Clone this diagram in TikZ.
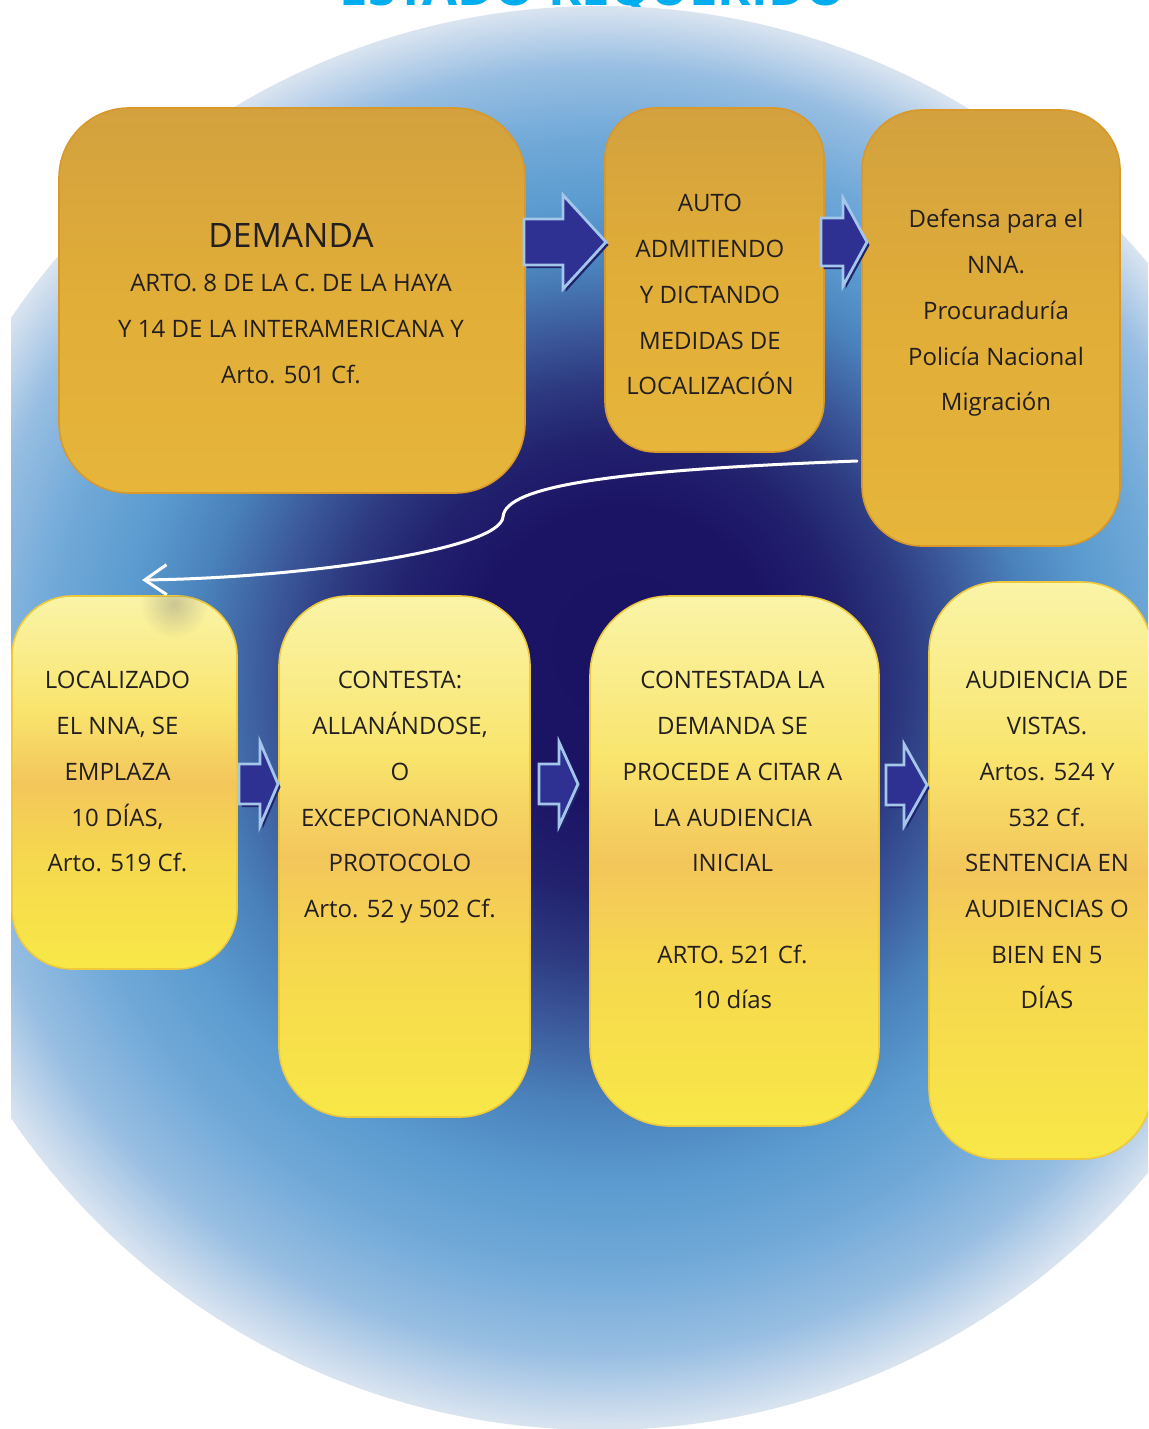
\documentclass[tikz,border=0pt]{standalone}
\usepackage{fontspec}
\setmainfont{Open Sans}
\usetikzlibrary{fit,arrows.meta,fadings}

% text and title
\definecolor{ink}{HTML}{231F20}
\definecolor{titlecyan}{HTML}{00AEEF}
% background disc, dark core to pale rim
\definecolor{bgA}{HTML}{1A1262}
\definecolor{bgB}{HTML}{1B1465}
\definecolor{bgC}{HTML}{22226E}
\definecolor{bgD}{HTML}{2D3A80}
\definecolor{bgE}{HTML}{3C5A9B}
\definecolor{bgF}{HTML}{4A82BB}
\definecolor{bgG}{HTML}{5B9BCF}
\definecolor{bgH}{HTML}{70A9D8}
\definecolor{bgI}{HTML}{98BEE2}
\definecolor{bgJ}{HTML}{DAE4F0}
% gold boxes
\definecolor{goldA}{HTML}{D3A13E}
\definecolor{goldB}{HTML}{E1AE38}
\definecolor{goldC}{HTML}{E6B53A}
\definecolor{goldEdge}{HTML}{D8982A}
% yellow boxes
\definecolor{yelA}{HTML}{FAF4A8}
\definecolor{yelB}{HTML}{F9E56E}
\definecolor{yelC}{HTML}{F3C65B}
\definecolor{yelD}{HTML}{F6D84E}
\definecolor{yelE}{HTML}{F8E847}
\definecolor{yelEdge}{HTML}{EFC93C}
% block arrows
\definecolor{arrowFill}{HTML}{2E3192}
\definecolor{arrowRim}{HTML}{A3C6EA}
\definecolor{arrowShadow}{HTML}{20246C}

% inner circle sits at the given point, outer circle at the origin;
% the shaded square is twice the disc radius on each side, so 12.5bp is the rim
\pgfdeclareradialshading{bgglow}{\pgfpoint{2.107bp}{5.478bp}}{%
  color(0bp)=(bgA); color(2.65bp)=(bgB); color(4bp)=(bgC); color(5.1bp)=(bgD);
  color(6.15bp)=(bgE); color(7.35bp)=(bgF); color(8.6bp)=(bgG); color(9.9bp)=(bgH);
  color(11.3bp)=(bgI); color(12.5bp)=(bgJ); color(50bp)=(bgJ)}
\pgfdeclareverticalshading{goldfill}{100bp}{%
  color(0bp)=(goldC); color(25bp)=(goldC); color(50bp)=(goldB);
  color(75bp)=(goldA); color(100bp)=(goldA)}
\pgfdeclareverticalshading{yellowfill}{100bp}{%
  color(0bp)=(yelE); color(25bp)=(yelE); color(40bp)=(yelD); color(50bp)=(yelC);
  color(60bp)=(yelB); color(75bp)=(yelA); color(100bp)=(yelA)}
\tikzfading[name=softspot, inner color=transparent!0, outer color=transparent!100]

\newcommand\capstrut{\rule{0pt}{12pt}}

% block arrow: tail x, head base x, tip x, centre y, shaft half height, head half height
\newcommand\blockarrow[6]{%
  \begin{scope}[shift={(2.5,3)}]
    \fill[arrowShadow] (#1,{#4-#5}) -- (#2,{#4-#5}) -- (#2,{#4-#6}) -- (#3,#4)
      -- (#2,{#4+#6}) -- (#2,{#4+#5}) -- (#1,{#4+#5}) -- cycle;
  \end{scope}
  \filldraw[blockarrow] (#1,{#4-#5}) -- (#2,{#4-#5}) -- (#2,{#4-#6}) -- (#3,#4)
    -- (#2,{#4+#6}) -- (#2,{#4+#5}) -- (#1,{#4+#5}) -- cycle;
}

\tikzset{
  goldbox/.style={draw=goldEdge, line width=0.8pt, shade, shading=goldfill, inner sep=0pt},
  yellowbox/.style={draw=yelEdge, line width=0.8pt, shade, shading=yellowfill, inner sep=0pt},
  txt/.style={align=center, inner sep=0pt, text=ink, anchor=north,
    font=\fontsize{12}{22.85}\selectfont},
  headtxt/.style={inner sep=0pt, text=ink, anchor=base, font=\fontsize{16.8}{20}\selectfont},
  titletxt/.style={inner sep=0pt, text=titlecyan, anchor=base,
    font=\fontsize{25.4}{30}\selectfont\bfseries},
  blockarrow/.style={fill=arrowFill, draw=arrowRim, line width=1.4pt, line join=miter},
  connector/.style={draw=white, line width=1.5pt, line cap=round,
    -{Straight Barb[length=11pt,width=15pt]}},
  smudge/.style={fill=black!55, opacity=0.35, path fading=softspot},
}

\begin{document}
\begin{tikzpicture}[x=0.5pt,y=-0.5pt]
\useasboundingbox (0,0) rectangle (1148,1429);
\clip (0,0) rectangle (1148,1429);
\fill[white] (0,0) rectangle (1148,1429);

% heading, mostly above the sheet
\node[titletxt] (title) at (593,6) {ESTADO REQUERIDO};

% shaded backdrop disc
\begin{scope}
  \clip (11,0) rectangle (1148,1429);
  \clip (600,718) circle[radius=712];
  \shade[shading=bgglow] (-914,-472) rectangle (1934,2376);
\end{scope}

% upper row
\node[goldbox, rounded corners=35pt, fit={(59,108) (525,493)}] (demanda) {};
\node[goldbox, rounded corners=25pt, fit={(605,108) (824,452)}] (auto) {};
\node[goldbox, rounded corners=30pt, fit={(862,110) (1120,546)}] (defensa) {};

% lower row
\node[yellowbox, rounded corners=30pt, fit={(12,596) (237,969)}] (localizado) {};
\node[yellowbox, rounded corners=35pt, fit={(279,596) (530,1117)}] (contesta) {};
\node[yellowbox, rounded corners=40pt, fit={(590,596) (879,1126)}] (contestada) {};
\node[yellowbox, rounded corners=35pt, fit={(929,582) (1152,1159)}] (audiencia) {};

% soft shadow left by the return arrow on the first lower box
\begin{scope}
  \clip (0,596) rectangle (300,700);
  \fill[smudge] (174,604) circle[radius=34];
\end{scope}

% step arrows
\blockarrow{524}{563}{606}{242}{23}{47}
\blockarrow{821}{843}{867}{242}{24}{44}
\blockarrow{239}{260}{278}{784}{20}{42}
\blockarrow{539}{559}{578}{784}{20}{42}
\blockarrow{886}{904}{927}{785}{20}{41}

% return path from the upper row to the lower row
\coordinate (turnStart) at (857,461);
\coordinate (turnEnd) at (142,580);
\draw[connector] (turnStart) .. controls (620,470) and (505,485) .. (503,517)
  .. controls (500,550) and (300,578) .. (turnEnd);

% texts
\node[headtxt] (demandaHead) at (291,247) {DEMANDA};
\node[txt] (demandaText) at (291,267.5) {\capstrut ARTO. 8 DE LA C. DE LA HAYA\\
  Y 14 DE LA INTERAMERICANA Y\\ Arto. 501 Cf.};
\node[txt] (autoText) at (710,187.5) {\capstrut AUTO\\ ADMITIENDO\\ Y DICTANDO\\
  MEDIDAS DE\\ LOCALIZACIÓN};
\node[txt] (defensaText) at (996,203.5) {\capstrut Defensa para el\\ NNA.\\
  Procuraduría\\ Policía Nacional\\ Migración};
\node[txt] (localizadoText) at (117.5,664.5) {\capstrut LOCALIZADO\\ EL NNA, SE\\
  EMPLAZA\\ 10 DÍAS,\\ Arto. 519 Cf.};
\node[txt] (contestaText) at (400,664.5) {\capstrut CONTESTA:\\ ALLANÁNDOSE,\\ O\\
  EXCEPCIONANDO\\ PROTOCOLO\\ Arto. 52 y 502 Cf.};
\node[txt] (contestadaText) at (732.5,664.5) {\capstrut CONTESTADA LA\\ DEMANDA SE\\
  PROCEDE A CITAR A\\ LA AUDIENCIA\\ INICIAL\\[22.85pt] ARTO. 521 Cf.\\ 10 días};
\node[txt] (audienciaText) at (1047,664.5) {\capstrut AUDIENCIA DE\\ VISTAS.\\
  Artos. 524 Y\\ 532 Cf.\\ SENTENCIA EN\\ AUDIENCIAS O\\ BIEN EN 5\\ DÍAS};
\end{tikzpicture}
\end{document}
